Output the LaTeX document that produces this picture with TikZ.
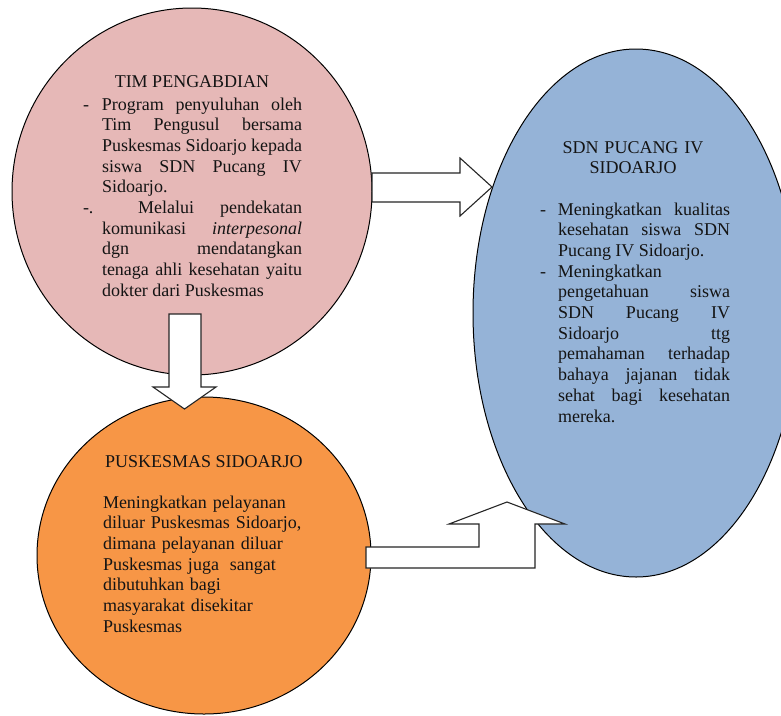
\documentclass[tikz,border=0pt]{standalone}
\usepackage{fontspec}
\setmainfont{Liberation Serif}
\usetikzlibrary{shapes.geometric}
\definecolor{pinkfill}{RGB}{230,184,183}
\definecolor{orangefill}{RGB}{247,150,70}
\definecolor{bluefill}{RGB}{149,179,215}
\definecolor{txt}{RGB}{20,20,20}
\newcommand{\hitem}[3]{\hangindent=#1\hangafter=1\makebox[#1][l]{#2}#3\par}
\tikzset{
  bubble/.style={ellipse, draw=black, line width=1pt, inner sep=0pt},
  blockarrow/.style={draw=black!85, fill=white, line width=1.1pt, line join=miter},
  txtnode/.style={inner sep=0pt, outer sep=0pt, text=txt,
    font=\fontsize{18}{20.7}\selectfont},
  bodytext/.style={txtnode, align=justify},
}
\begin{document}
\begin{tikzpicture}[x=1pt,y=-1pt]
\useasboundingbox (0,0) rectangle (781,715);
\clip (0,0) rectangle (781,715);
\fill[white] (0,0) rectangle (781,715);
% bubbles
\node[bubble, fill=pinkfill, minimum width=360, minimum height=367] (pink) at (192,191.5) {};
\node[bubble, fill=orangefill, minimum width=334, minimum height=317] (orange) at (204,555.5) {};
\node[bubble, fill=bluefill, minimum width=326, minimum height=528] (blue) at (636,313) {};
% block arrows
\draw[blockarrow] (372,173) -- (460,173) -- (460,158) -- (492,187) -- (460,216) -- (460,202) -- (372,202) -- cycle;
\draw[blockarrow] (169,314) -- (201,314) -- (201,387) -- (216,387) -- (184.5,409) -- (153,387) -- (169,387) -- cycle;
\draw[blockarrow] (366,547) -- (479,547) -- (479,524) -- (449,524) -- (507,502) -- (565,524) -- (535,524) -- (535,568) -- (366,568) -- cycle;
% texts
\node[txtnode, anchor=base] (pinktitle) at (192,87) {TIM PENGABDIAN};
\node[bodytext, anchor=base west, text width=219] (pinkbody) at (83,110) {%
\tolerance=10000\hbadness=10000
\hitem{19pt}{-}{Program penyuluhan oleh\linebreak Tim Pengusul bersama\linebreak Puskesmas Sidoarjo kepada\linebreak siswa SDN Pucang IV\linebreak Sidoarjo.}%
\hitem{19pt}{-.}{\hspace{10pt} Melalui pendekatan\linebreak komunikasi \textit{interpesonal}\linebreak dgn mendatangkan\linebreak tenaga ahli kesehatan yaitu\linebreak dokter dari Puskesmas}};
\node[txtnode, anchor=base west] (orangetitle) at (105,467) {PUSKESMAS SIDOARJO};
\node[txtnode, anchor=base west, text width=250, align=left] (orangebody) at (103,508) {%
Meningkatkan pelayanan\\ diluar Puskesmas Sidoarjo,\\ dimana pelayanan diluar\\ Puskesmas juga\hspace{5pt} sangat\\ dibutuhkan bagi\\ masyarakat disekitar\\ Puskesmas};
\node[txtnode, anchor=base, text width=200, align=center] (bluetitle) at (633,153) {SDN PUCANG IV\\SIDOARJO};
\node[bodytext, anchor=base west, text width=190] (bluebody) at (540,215) {%
\tolerance=10000\hbadness=10000
\hitem{18pt}{-}{Meningkatkan kualitas\linebreak kesehatan siswa SDN\linebreak Pucang IV Sidoarjo.}%
\hitem{18pt}{-}{Meningkatkan\linebreak pengetahuan siswa\linebreak SDN Pucang IV\linebreak Sidoarjo ttg\linebreak pemahaman terhadap\linebreak bahaya jajanan tidak\linebreak sehat bagi kesehatan\linebreak mereka.}};
\end{tikzpicture}
\end{document}
